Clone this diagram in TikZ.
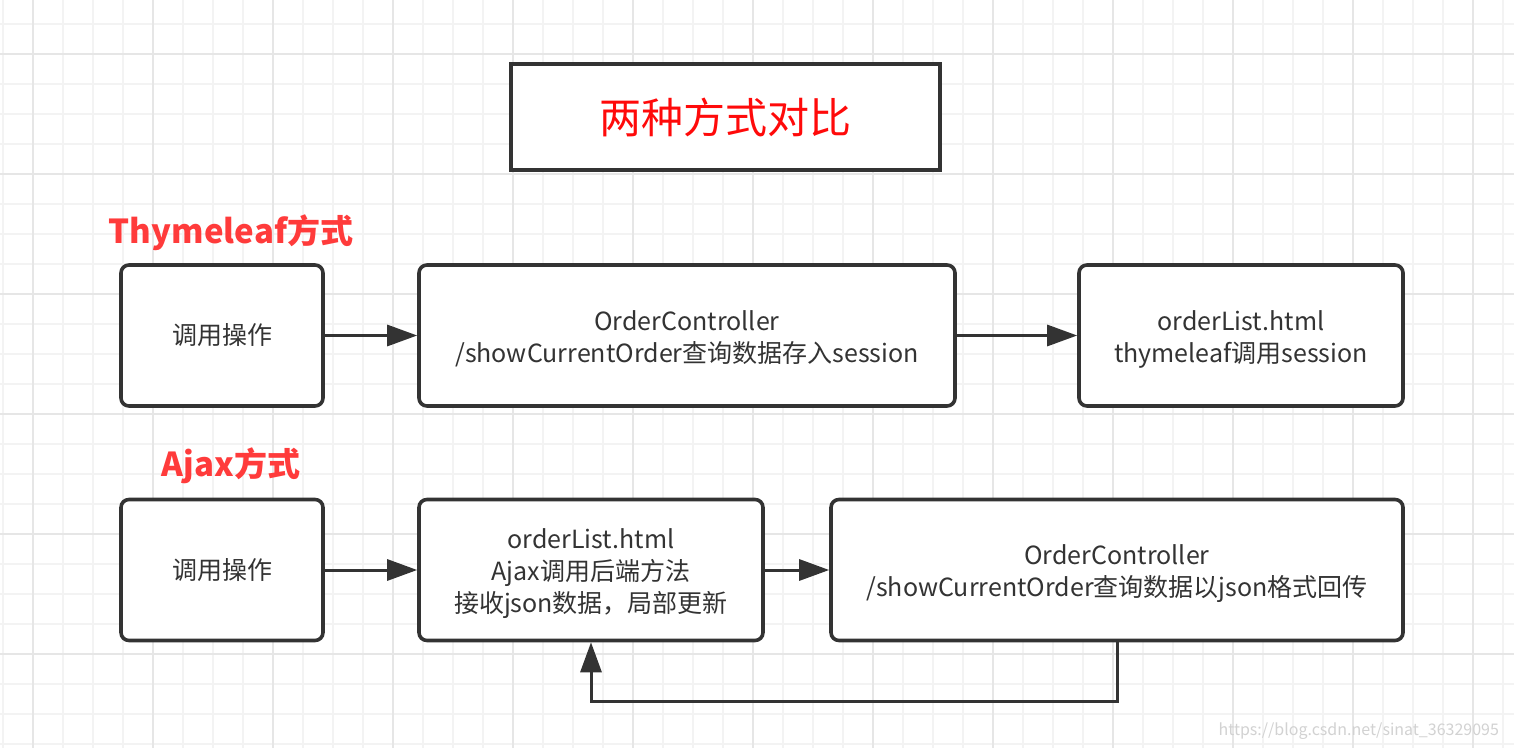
\documentclass[tikz,border=0pt]{standalone}
\usepackage{fontspec}
\setmainfont{Noto Sans CJK SC}
\usetikzlibrary{positioning,arrows.meta}
\definecolor{linegray}{HTML}{333333}
\definecolor{titlered}{HTML}{FF0A0A}
\definecolor{labelred}{HTML}{FF3B3B}
\definecolor{minorgrid}{HTML}{F3F3F3}
\definecolor{majorgrid}{HTML}{E6E6E6}
\definecolor{markgray}{HTML}{D2D2D2}
\newcommand\topstrut{\rule{0pt}{13.5pt}}

\begin{document}
\begin{tikzpicture}[x=0.5pt,y=-0.5pt,box/.style={draw=linegray, line width=1.8pt, rounded corners=4pt, fill=white, align=center, minimum height=70.5pt, font=\fontsize{12.5}{16}\selectfont, text=black!80},titlebox/.style={draw=linegray, line width=2pt, fill=white, minimum width=214.5pt, minimum height=53pt, text=titlered, font=\fontsize{21}{25}\selectfont},lbl/.style={text=labelred, font=\fontsize{16.5}{20}\selectfont\bfseries},link/.style={draw=linegray, line width=1.5pt, -{Triangle[length=15pt,width=10.5pt]}}]
\useasboundingbox[fill=white] (0,0) rectangle (1514,748);
% grid
\foreach \x in {2.7,32.7,...,1514} \draw[minorgrid, line width=1pt] (\x,0) -- (\x,748);
\foreach \y in {24,54,...,748} \draw[minorgrid, line width=1pt] (0,\y) -- (1514,\y);
\foreach \x in {32.7,152.7,...,1514} \draw[majorgrid, line width=1pt] (\x,0) -- (\x,748);
\foreach \y in {54,174,...,748} \draw[majorgrid, line width=1pt] (0,\y) -- (1514,\y);
% title
\node[titlebox] (title) at (725.5,117) {两种方式对比};
% Thymeleaf
\node[lbl] (thyme) at (231,233) {Thymeleaf方式};
\node[box, minimum width=101pt] (caller1) at (222,335.5) {调用操作};
\node[box, minimum width=268pt] (ctrl1) at (687,335.5) {\topstrut OrderController\\/showCurrentOrder查询数据存入session};
\node[box, minimum width=162pt] (page1) at (1241,335.5) {\topstrut orderList.html\\thymeleaf调用session};
\draw[link] (caller1) -- (ctrl1);
\draw[link] (ctrl1) -- (page1);
% Ajax
\node[lbl] (ajax) at (231,466) {Ajax方式};
\node[box, minimum width=101pt] (caller2) at (222,570) {调用操作};
\node[box, minimum width=172pt] (page2) at (591,570) {\topstrut orderList.html\\Ajax调用后端方法\\接收json数据，局部更新};
\node[box, minimum width=286pt] (ctrl2) at (1117,570) {\topstrut OrderController\\/showCurrentOrder查询数据以json格式回传};
\draw[link] (caller2) -- (page2);
\draw[link] (page2) -- (ctrl2);
\draw[link] (ctrl2.south) -- ++(0,59) -| (page2.south);
\node[text=markgray, font=\fontsize{8}{10}\selectfont, anchor=east] (mark) at (1506,731) {https://blog.csdn.net/sinat\_36329095};
\end{tikzpicture}
\end{document}
